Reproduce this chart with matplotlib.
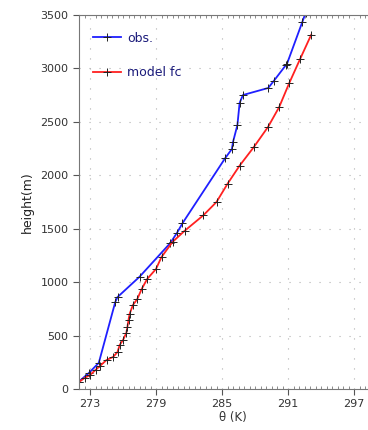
import numpy as np
import matplotlib
matplotlib.use('Agg')
import matplotlib.pyplot as plt
from matplotlib.ticker import MultipleLocator

# observed profile (theta in K, height in m)
obs_theta = [272.0, 272.9, 273.8, 275.3, 275.5, 277.5, 280.3, 280.9, 281.4,
             285.3, 285.9, 286.0, 286.4, 286.6, 286.9, 289.2, 289.7, 290.8,
             290.9, 292.3, 292.6]
obs_height = [70, 150, 245, 815, 860, 1050, 1366, 1460, 1550,
              2162, 2246, 2311, 2470, 2676, 2751, 2817, 2882, 3030,
              3041, 3434, 3520]

# model forecast profile
mod_theta = [272.0, 272.5, 273.0, 273.5, 273.9, 274.5, 275.1, 275.5, 275.7,
             276.0, 276.3, 276.4, 276.5, 276.6, 276.9, 277.3, 277.7, 278.2,
             279.0, 279.5, 280.5, 281.6, 283.3, 284.5, 285.5, 286.6, 287.9,
             289.2, 290.2, 291.1, 292.1, 293.1]
mod_height = [65, 103, 131, 178, 215, 271, 300, 346, 412,
              458, 524, 580, 646, 702, 786, 842, 936, 1030,
              1123, 1235, 1376, 1480, 1625, 1750, 1920, 2090, 2265,
              2455, 2639, 2860, 3088, 3313]

xticks = [273, 279, 285, 291, 297]
yticks = np.arange(0, 3501, 500)

fig = plt.figure(figsize=(3.68, 4.30), dpi=100)
ax = fig.add_axes([79/368, 41/430, 308/368, 374/430])

ax.plot(obs_theta, obs_height, color='#1f1fff', lw=1.3, marker='+',
        mec='#222222', ms=6, mew=0.7, label='obs.')
ax.plot(mod_theta, mod_height, color='#ff2020', lw=1.3, marker='+',
        mec='#222222', ms=6, mew=0.7, label='model fc')

ax.set_xlim(272, 300)
ax.set_ylim(0, 3500)
ax.set_xticks(xticks)
ax.set_yticks(yticks)
ax.xaxis.set_minor_locator(MultipleLocator(0.5))
ax.tick_params(axis='both', which='major', direction='out', length=4,
               width=0.8, labelsize=8, labelcolor='#333333', color='#555555')
ax.tick_params(axis='x', which='minor', direction='in', length=2,
               width=0.6, top=True, color='#777777')
ax.grid(True, which='major', color='#b0b0b0', lw=0.8, linestyle=(0, (1, 8)))
for s in ax.spines.values():
    s.set_color('#777777')
    s.set_linewidth(0.8)

ax.set_xlabel('θ (K)', fontsize=8.5, color='#333333', labelpad=1)
ax.set_ylabel('height(m)', fontsize=9, color='#222222', labelpad=5)

leg = ax.legend(loc='upper left', bbox_to_anchor=(0.01, 0.985), frameon=False,
                fontsize=9, labelspacing=1.7, handlelength=2.2,
                handletextpad=0.5)
for t in leg.get_texts():
    t.set_color('#1a1a7a')

fig.savefig('out.png', dpi=100)
